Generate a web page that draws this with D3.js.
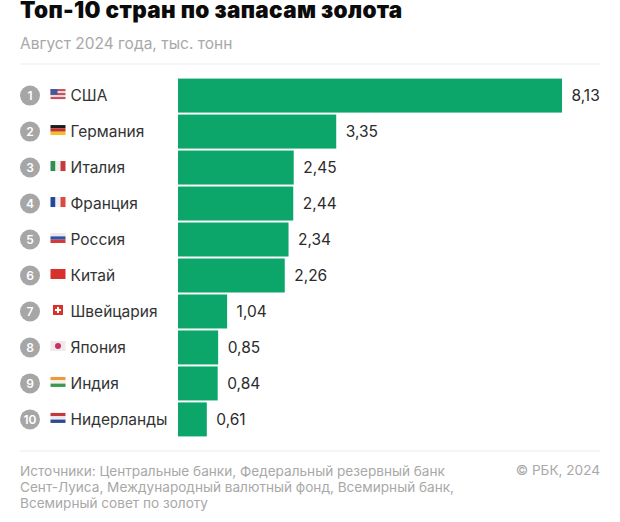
<!DOCTYPE html>
<html>
<head>
<meta charset="utf-8">
<script src="https://cdn.jsdelivr.net/npm/d3@7"></script>
<style>
  html, body { margin: 0; padding: 0; background: #fff; }
  svg { display: block; font-family: Inter, "Noto Sans", sans-serif; }
</style>
</head>
<body>
<div id="chart"></div>
<script>
// values
const countries = ["США", "Германия", "Италия", "Франция", "Россия", "Китай", "Швейцария", "Япония", "Индия", "Нидерланды"];
const reserves = [8.13, 3.35, 2.45, 2.44, 2.34, 2.26, 1.04, 0.85, 0.84, 0.61];
const valueLabels = ["8,13", "3,35", "2,45", "2,44", "2,34", "2,26", "1,04", "0,85", "0,84", "0,61"];
const ranks = [1, 2, 3, 4, 5, 6, 7, 8, 9, 10];
const footerLines = [
  "Источники: Центральные банки, Федеральный резервный банк",
  "Сент-Луиса, Международный валютный фонд, Всемирный банк,",
  "Всемирный совет по золоту"
];

const width = 620, height = 522;

const svg = d3.select("#chart")
  .append("svg")
    .attr("width", width)
    .attr("height", height);

// scales
const x = d3.scaleLinear().domain([0, 8.13]).range([178, 562]);
const y = d3.scaleBand().domain(countries).range([77.5, 437.5]).paddingInner(0.055).paddingOuter(0.03);

// title and subtitle
svg.append("text")
  .attr("x", 20).attr("y", 18)
  .text("Топ-10 стран по запасам золота")
  .style("font-size", "22.5px")
  .style("font-weight", 900)
  .style("letter-spacing", "0.32px")
  .style("fill", "#0b0b0b");

svg.append("text")
  .attr("x", 20).attr("y", 48.5)
  .text("Август 2024 года, тыс. тонн")
  .style("font-size", "15.5px")
  .style("fill", "#a8a8a8");

// rules
svg.selectAll(".rule")
  .data([64, 451])
  .join("line")
    .attr("class", "rule")
    .attr("x1", 20).attr("x2", 600)
    .attr("y1", d => d).attr("y2", d => d)
    .attr("stroke", "#ececec")
    .attr("stroke-width", 1.2);

// bars
svg.selectAll(".bar")
  .data(countries)
  .join("rect")
    .attr("class", "bar")
    .attr("x", x(0))
    .attr("y", d => y(d))
    .attr("width", (d, i) => x(reserves[i]) - x(0))
    .attr("height", y.bandwidth())
    .attr("fill", "#0ca66a");

// value labels
svg.selectAll(".value")
  .data(countries)
  .join("text")
    .attr("class", "value")
    .attr("x", (d, i) => x(reserves[i]) + 9.5)
    .attr("y", d => y(d) + y.bandwidth() / 2 + 5.5)
    .text((d, i) => valueLabels[i])
    .style("font-size", "15.5px")
    .style("fill", "#2b2b2b");

// rank circles
svg.selectAll(".rank")
  .data(countries)
  .join("circle")
    .attr("class", "rank")
    .attr("cx", 30)
    .attr("cy", d => y(d) + y.bandwidth() / 2)
    .attr("r", 10)
    .attr("fill", "#a6a6a6");

svg.selectAll(".rank-label")
  .data(countries)
  .join("text")
    .attr("class", "rank-label")
    .attr("x", 30)
    .attr("y", d => y(d) + y.bandwidth() / 2 + 4.5)
    .attr("text-anchor", "middle")
    .text((d, i) => ranks[i])
    .style("font-size", "12px")
    .style("font-weight", 600)
    .style("fill", "#fff");

// country names
svg.selectAll(".name")
  .data(countries)
  .join("text")
    .attr("class", "name")
    .attr("x", 70.5)
    .attr("y", d => y(d) + y.bandwidth() / 2 + 5.5)
    .text(d => d)
    .style("font-size", "15.5px")
    .style("fill", "#333");

// flags: stripes are [colour, ...], dir says which way they run
const flags = {
  "США": { dir: "h", stripes: ["#c9485b", "#e8d5d8", "#c9485b", "#e8d5d8", "#c9485b"], canton: "#3d5a9e" },
  "Германия": { dir: "h", stripes: ["#1c1c1c", "#c8322b", "#f2bf2e"] },
  "Италия": { dir: "v", stripes: ["#2f8f4e", "#f0f0ec", "#c8383f"] },
  "Франция": { dir: "v", stripes: ["#24479a", "#f0f0f4", "#dc4a3f"] },
  "Россия": { dir: "h", stripes: ["#e9e9ee", "#2f55a4", "#d33a3a"] },
  "Китай": { dir: "h", stripes: ["#d8302c"] },
  "Швейцария": { dir: "h", stripes: ["#d8302c"], cross: true, narrow: true },
  "Япония": { dir: "h", stripes: ["#efe9ee"], dot: "#c9305a" },
  "Индия": { dir: "h", stripes: ["#ee9a3a", "#f4f2ea", "#3c9a4e"] },
  "Нидерланды": { dir: "h", stripes: ["#c2383f", "#eeeaf0", "#2c4a94"] }
};

countries.forEach(name => {
  const f = flags[name];
  const cy = y(name) + y.bandwidth() / 2 - 1.5;
  const w = f.narrow ? 10 : 15, h = 10;
  const left = f.narrow ? 53 : 50.5;
  const top = cy - h / 2;
  const g = svg.append("g").attr("class", "flag");
  const n = f.stripes.length;
  g.selectAll("rect")
    .data(f.stripes)
    .join("rect")
      .attr("x", (d, i) => f.dir === "v" ? left + i * w / n : left)
      .attr("y", (d, i) => f.dir === "h" ? top + i * h / n : top)
      .attr("width", f.dir === "v" ? w / n : w)
      .attr("height", f.dir === "h" ? h / n : h)
      .attr("fill", d => d);
  if (f.canton) {
    g.append("rect").attr("x", left).attr("y", top).attr("width", 7).attr("height", 5.5).attr("fill", f.canton);
  }
  if (f.dot) {
    g.append("circle").attr("cx", left + w / 2).attr("cy", cy).attr("r", 3).attr("fill", f.dot);
  }
  if (f.cross) {
    g.append("rect").attr("x", left + 2).attr("y", cy - 1).attr("width", w - 4).attr("height", 2).attr("fill", "#fff");
    g.append("rect").attr("x", left + w / 2 - 1).attr("y", top + 2).attr("width", 2).attr("height", h - 4).attr("fill", "#fff");
  }
});

// footer
svg.selectAll(".source")
  .data(footerLines)
  .join("text")
    .attr("class", "source")
    .attr("x", 20)
    .attr("y", (d, i) => 476 + i * 16)
    .text(d => d)
    .style("font-size", "13.6px")
    .style("fill", "#a8a8a8");

svg.append("text")
  .attr("x", 600).attr("y", 475)
  .attr("text-anchor", "end")
  .text("© РБК, 2024")
  .style("font-size", "13.6px")
  .style("fill", "#a8a8a8");
</script>
</body>
</html>
